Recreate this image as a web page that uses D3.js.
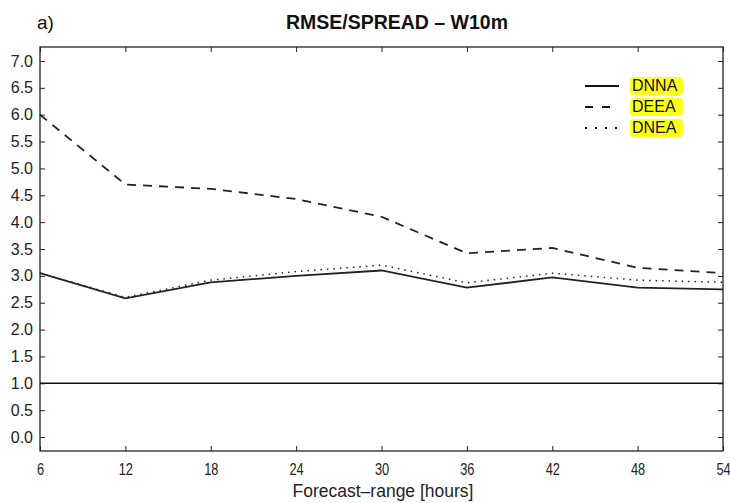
<!DOCTYPE html>
<html>
<head>
<meta charset="utf-8">
<script src="https://cdn.jsdelivr.net/npm/d3@7"></script>
<style>
  body { margin: 0; background: #fff; }
  text { font-family: "Liberation Sans", Arial, sans-serif; }
</style>
</head>
<body>
<div id="chart"></div>
<script>
let hours = [6, 12, 18, 24, 30, 36, 42, 48, 54];
let dnna = [3.05, 2.58, 2.88, 3.0, 3.1, 2.78, 2.97, 2.78, 2.75];
let deea = [6.0, 4.7, 4.62, 4.43, 4.1, 3.42, 3.52, 3.15, 3.05];
let dnea = [3.05, 2.6, 2.92, 3.08, 3.2, 2.87, 3.05, 2.92, 2.88];
let yTicks = [0, 0.5, 1, 1.5, 2, 2.5, 3, 3.5, 4, 4.5, 5, 5.5, 6, 6.5, 7];
let refValue = 1.0;

let series = [
  { name: "DNNA", values: dnna, dash: null, legendDash: null },
  { name: "DEEA", values: deea, dash: "9,7", legendDash: "8,9" },
  { name: "DNEA", values: dnea, dash: "1.5,5", legendDash: "2,8" }
];

let width = 730,
    height = 503,
    margin = ({ top: 47, right: 7, bottom: 52, left: 40 });

const svg = d3.select("#chart")
  .append("svg")
  .attr("width", width)
  .attr("height", height);

let x = d3.scaleLinear()
  .domain([6, 54])
  .range([margin.left, width - margin.right]);

let y = d3.scaleLinear()
  .domain([-0.26, 7.26])
  .range([height - margin.bottom, margin.top]);

// frame
svg.append("rect")
  .attr("x", margin.left)
  .attr("y", margin.top)
  .attr("width", width - margin.left - margin.right)
  .attr("height", height - margin.top - margin.bottom)
  .attr("fill", "none")
  .attr("stroke", "#222")
  .attr("stroke-width", 1.3);

// axes, ticks point inward
let xb = svg.append("g")
  .attr("transform", `translate(0,${height - margin.bottom})`)
  .call(d3.axisBottom(x).tickValues(hours).tickSizeInner(-5).tickSizeOuter(0).tickPadding(13));
let xt = svg.append("g")
  .attr("transform", `translate(0,${margin.top})`)
  .call(d3.axisTop(x).tickValues(hours).tickSizeInner(-5).tickSizeOuter(0).tickFormat(""));
let yl = svg.append("g")
  .attr("transform", `translate(${margin.left},0)`)
  .call(d3.axisLeft(y).tickValues(yTicks).tickSizeInner(-5).tickSizeOuter(0).tickPadding(7).tickFormat(d3.format(".1f")));
let yr = svg.append("g")
  .attr("transform", `translate(${width - margin.right},0)`)
  .call(d3.axisRight(y).tickValues(yTicks).tickSizeInner(-5).tickSizeOuter(0).tickFormat(""));

for (let g of [xb, xt, yl, yr]) {
  g.select(".domain").remove();
  g.selectAll("line").attr("stroke", "#222");
  g.selectAll("text").attr("font-size", 16).attr("fill", "#222");
}
// x labels in the original are narrower
xb.selectAll(".tick text").attr("transform", "scale(0.8,1)");

// reference line at 1.0
svg.append("line")
  .attr("x1", margin.left)
  .attr("x2", width - margin.right)
  .attr("y1", y(refValue))
  .attr("y2", y(refValue))
  .attr("stroke", "#111")
  .attr("stroke-width", 1.4);

let line = d3.line()
  .x((d, i) => x(hours[i]))
  .y(d => y(d));

for (let s of series) {
  svg.append("path")
    .datum(s.values)
    .attr("fill", "none")
    .attr("stroke", "#222")
    .attr("stroke-width", s.name === "DNEA" ? 1.5 : 1.8)
    .attr("stroke-dasharray", s.dash)
    .attr("d", line);
}

// legend
let legend = svg.append("g").attr("transform", "translate(585,86)");
series.forEach((s, i) => {
  let g = legend.append("g").attr("transform", `translate(0,${i * 21})`);
  g.append("line")
    .attr("x1", 0).attr("x2", 34)
    .attr("stroke", "#111")
    .attr("stroke-width", 2.2)
    .attr("stroke-dasharray", s.legendDash);
  g.append("rect")
    .attr("x", 45).attr("y", -9)
    .attr("width", 53).attr("height", 18)
    .attr("rx", 4)
    .attr("fill", "#ffff1a");
  g.append("text")
    .attr("x", 47).attr("y", 1)
    .attr("dominant-baseline", "middle")
    .attr("font-size", 16)
    .attr("fill", "#111")
    .text(s.name);
});

// titles
svg.append("text")
  .attr("x", 397).attr("y", 29)
  .attr("text-anchor", "middle")
  .attr("font-size", 19.5)
  .attr("font-weight", "bold")
  .attr("fill", "#111")
  .text("RMSE/SPREAD \u2013 W10m");

svg.append("text")
  .attr("x", 37).attr("y", 29)
  .attr("font-size", 19)
  .attr("fill", "#111")
  .text("a)");

svg.append("text")
  .attr("x", 383)
  .attr("y", 497)
  .attr("text-anchor", "middle")
  .attr("font-size", 17.5)
  .attr("fill", "#222")
  .text("Forecast\u2013range [hours]");
</script>
</body>
</html>
